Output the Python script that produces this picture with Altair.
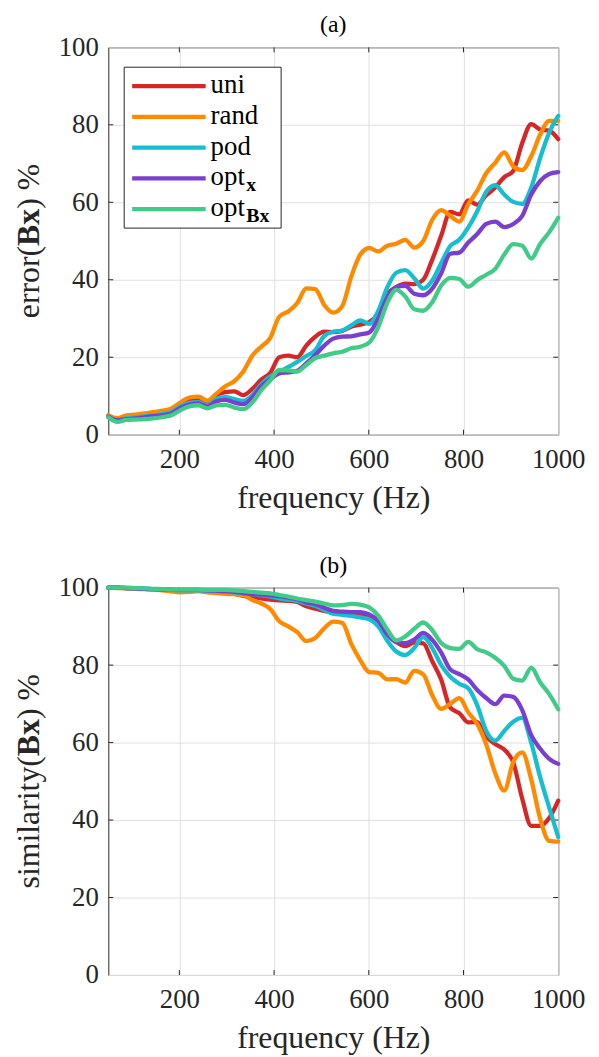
import altair as alt
import pandas as pd

freq = [50, 69, 88, 107, 126, 145, 164, 183, 202, 221, 240, 259, 278, 297, 316, 335, 354,
        373, 392, 411, 430, 449, 468, 487, 506, 525, 544, 563, 582, 601, 620, 639, 658, 677,
        696, 715, 734, 753, 772, 791, 810, 829, 848, 867, 886, 905, 924, 943, 962, 981, 1000]

err_uni = [4.8, 4.1, 4.6, 4.9, 5.1, 5.4, 5.8, 6.4, 7.8, 8.8, 9.0, 8.2, 10.2, 11.0, 11.2, 10.2, 11.8,
           14.2, 16.0, 20.0, 20.4, 20.0, 23.0, 25.3, 26.6, 26.5, 26.8, 27.9, 28.4, 29.1, 31.3, 36.3,
           38.1, 39.0, 38.9, 40.0, 45.2, 51.4, 57.5, 56.9, 60.5, 59.4, 61.8, 63.8, 66.5, 68.1, 75.3,
           80.2, 78.8, 78.5, 76.3]
err_rand = [5.0, 4.3, 5.0, 5.2, 5.5, 5.8, 6.2, 6.8, 8.3, 9.6, 9.8, 8.8, 10.6, 12.5, 13.8, 16.3, 20.4,
            22.7, 25.0, 30.5, 31.8, 34.0, 37.8, 37.6, 33.5, 31.5, 33.2, 40.8, 46.5, 48.2, 47.3, 48.8,
            49.3, 50.3, 48.3, 50.0, 55.5, 58.0, 56.5, 55.0, 59.5, 63.0, 67.5, 70.2, 72.9, 69.3, 68.3,
            71.9, 77.5, 81.0, 81.0]
err_pod = [4.6, 3.8, 4.2, 4.5, 4.7, 5.0, 5.3, 5.9, 7.3, 8.2, 8.4, 7.6, 9.2, 9.7, 9.2, 8.7, 10.2,
           13.0, 15.0, 16.2, 17.5, 18.8, 20.3, 21.8, 25.5, 26.6, 26.9, 28.2, 29.5, 28.6, 32.0, 38.0,
           41.8, 42.5, 40.4, 37.7, 39.8, 44.3, 48.7, 50.3, 53.5, 57.7, 62.7, 64.4, 62.0, 60.1, 59.6,
           63.8, 71.5, 78.0, 82.3]
err_optx = [4.7, 3.7, 4.0, 4.2, 4.5, 4.8, 5.0, 5.5, 6.9, 7.8, 8.1, 7.3, 8.6, 9.0, 8.3, 7.9, 9.6,
            12.5, 14.3, 15.8, 16.1, 16.5, 18.4, 20.6, 23.0, 24.8, 25.3, 25.4, 25.9, 26.4, 30.0, 35.4,
            38.1, 38.4, 36.4, 36.0, 37.7, 41.7, 46.7, 47.0, 49.6, 51.8, 54.4, 55.0, 53.6, 54.4, 56.5,
            62.0, 65.5, 67.3, 67.8]
err_optBx = [4.5, 3.3, 3.8, 3.9, 4.0, 4.2, 4.5, 5.0, 6.3, 7.3, 7.6, 6.8, 7.6, 7.7, 7.0, 6.6, 8.3,
             11.5, 14.0, 16.7, 16.6, 16.3, 18.0, 19.8, 20.4, 21.0, 21.4, 22.3, 22.7, 23.8, 27.8, 34.0,
             37.4, 35.7, 32.4, 32.0, 34.2, 38.5, 40.5, 40.2, 38.2, 39.9, 41.3, 42.8, 46.5, 49.2, 48.8,
             45.5, 49.3, 52.3, 56.0]

sim_uni = [100, 100, 99.9, 99.8, 99.7, 99.6, 99.5, 99.4, 99.3, 99.3, 99.2, 99.0, 98.9, 98.7, 98.4,
           97.9, 97.6, 97.2, 96.9, 96.7, 96.6, 96.3, 95.2, 94.6, 94.0, 93.5, 93.4, 93.3, 93.1, 92.6,
           91.0, 88.5, 86.0, 84.9, 85.8, 85.6, 81.0, 76.2, 69.0, 67.6, 65.2, 65.3, 61.5, 59.6, 58.2,
           54.9, 45.5, 38.5, 38.5, 40.5, 45.0]
sim_rand = [100, 99.9, 99.8, 99.7, 99.6, 99.5, 99.3, 99.0, 98.8, 98.9, 99.1, 98.8, 98.6, 98.4, 98.3,
            98.0, 96.8, 95.9, 94.5, 91.3, 90.0, 88.5, 86.2, 87.0, 89.5, 91.2, 90.9, 85.5, 81.3, 78.2,
            78.0, 76.3, 76.4, 75.5, 78.5, 77.6, 72.2, 68.7, 70.0, 71.5, 67.8, 64.8, 59.5, 52.1, 47.6,
            55.0, 57.5, 50.5, 40.3, 34.6, 34.4]
sim_pod = [100, 100, 99.9, 99.8, 99.7, 99.6, 99.5, 99.4, 99.3, 99.3, 99.3, 99.2, 99.1, 99.0, 98.8,
           98.6, 98.3, 98.0, 97.7, 97.2, 96.9, 96.6, 95.9, 95.3, 94.2, 93.2, 93.0, 92.7, 92.3, 91.8,
           90.0, 86.3, 83.5, 82.6, 84.4, 87.2, 84.4, 80.0, 77.0, 75.2, 74.0, 69.6, 63.0, 60.5, 63.0,
           65.4, 66.4, 59.9, 51.0, 43.2, 35.6]
sim_optx = [100, 100, 99.9, 99.8, 99.7, 99.6, 99.5, 99.4, 99.4, 99.4, 99.4, 99.3, 99.2, 99.1, 98.9,
            98.6, 98.3, 98.2, 98.0, 97.8, 97.4, 97.0, 96.2, 95.7, 94.8, 94.0, 93.8, 93.7, 93.7, 93.1,
            91.5, 88.0, 85.9, 85.7, 86.6, 88.3, 86.5, 83.2, 78.9, 77.7, 76.3, 73.6, 71.5, 69.9, 72.1,
            71.8, 68.4, 61.9, 58.4, 55.8, 54.5]
sim_optBx = [100, 100, 100, 99.9, 99.8, 99.7, 99.6, 99.5, 99.5, 99.5, 99.5, 99.4, 99.4, 99.4, 99.3,
             99.1, 98.9, 98.7, 98.5, 98.1, 97.7, 97.2, 96.8, 96.4, 95.9, 95.4, 95.5, 95.8, 95.6, 94.9,
             92.8, 89.2, 86.4, 87.4, 89.4, 91.0, 89.0, 85.7, 84.4, 84.2, 86.0, 84.1, 83.3, 81.9, 79.8,
             76.5, 76.0, 79.3, 75.5, 72.5, 68.6]

names = ["uni", "rand", "pod", "optx", "optBx"]
colors = ["#D62728", "#FF8A00", "#17BECF", "#7B3FCF", "#40CC88"]
legend_main = ["uni", "rand", "pod", "opt", "opt"]
legend_sub = ["", "", "", "x", "Bx"]
x_ticks = [200, 400, 600, 800, 1000]
y_ticks = [0, 20, 40, 60, 80, 100]

FONT = "Liberation Serif"
DARK = "#262626"
W, H = 453, 390


def long_frame(series):
    rows = []
    for name, vals in zip(names, series):
        for f, v in zip(freq, vals):
            rows.append({"f": f, "v": v, "s": name})
    return pd.DataFrame(rows)


X = alt.X("f:Q", scale=alt.Scale(domain=[50, 1000], nice=False, zero=False),
          axis=alt.Axis(values=x_ticks, title="frequency (Hz)", labelFlush=False,
                        labelOverlap=False, format="d"))
Y = alt.Y("v:Q", scale=alt.Scale(domain=[0, 100], nice=False),
          axis=alt.Axis(values=y_ticks, title=None, labelOverlap=False, format="d"))

one = pd.DataFrame({"a": [0]})


def panel(series, title, ylab_pre, legend):
    df = long_frame(series)
    layers = []
    tx = pd.DataFrame({"f": x_ticks[:-1]})
    ty = pd.DataFrame({"v": y_ticks[1:-1]})
    layers.append(alt.Chart(tx).mark_rule(color=DARK, strokeWidth=1).encode(
        x=X, y=alt.value(H), y2=alt.value(H - 5)))
    layers.append(alt.Chart(tx).mark_rule(color=DARK, strokeWidth=1).encode(
        x=X, y=alt.value(0), y2=alt.value(5)))
    layers.append(alt.Chart(ty).mark_rule(color=DARK, strokeWidth=1).encode(
        y=Y, x=alt.value(0), x2=alt.value(5)))
    layers.append(alt.Chart(ty).mark_rule(color=DARK, strokeWidth=1).encode(
        y=Y, x=alt.value(W), x2=alt.value(W - 5)))
    for name, col in zip(names, colors):
        layers.append(
            alt.Chart(df).transform_filter(alt.datum.s == name)
            .mark_line(color=col, strokeWidth=4.3, strokeJoin="round", strokeCap="round",
                       interpolate="monotone")
            .encode(x=X, y=Y)
        )
    # y-axis title with bold Bx
    yc = H / 2.0
    bx_w = 37.3
    pre_w = {"error(": 72.8, "similarity(": 133.3}[ylab_pre]
    post_w = 45.3
    total = pre_w + bx_w + post_w
    bx_bottom = yc + total / 2 - pre_w
    bx_center = bx_bottom - bx_w / 2
    tx_pos = -80
    layers.append(alt.Chart(one).mark_text(angle=270, align="right", baseline="middle", font=FONT,
                                           fontSize=32, color=DARK, text=ylab_pre)
                  .encode(x=alt.value(tx_pos), y=alt.value(bx_bottom)))
    layers.append(alt.Chart(one).mark_text(angle=270, align="center", baseline="middle", font=FONT,
                                           fontSize=32, fontWeight="bold", color=DARK, text="Bx")
                  .encode(x=alt.value(tx_pos), y=alt.value(bx_center)))
    layers.append(alt.Chart(one).mark_text(angle=270, align="left", baseline="middle", font=FONT,
                                           fontSize=32, color=DARK, text=") %")
                  .encode(x=alt.value(tx_pos), y=alt.value(bx_center - bx_w / 2)))
    if legend:
        layers.append(alt.Chart(one).mark_rect(fill="white", stroke=DARK, strokeWidth=1).encode(
            x=alt.value(16), x2=alt.value(174), y=alt.value(20), y2=alt.value(182)))
        for k, (col, lab, sub) in enumerate(zip(colors, legend_main, legend_sub)):
            yy = 39 + 31 * k
            layers.append(alt.Chart(one).mark_rule(color=col, strokeWidth=4.3).encode(
                x=alt.value(24), x2=alt.value(98), y=alt.value(yy)))
            layers.append(alt.Chart(one).mark_text(align="left", baseline="alphabetic", font=FONT,
                                                   fontSize=27, color="black", text=lab)
                          .encode(x=alt.value(103), y=alt.value(yy + 7)))
            if sub:
                layers.append(alt.Chart(one).mark_text(align="left", baseline="alphabetic",
                                                       font=FONT, fontSize=20, fontWeight="bold",
                                                       color="black", text=sub)
                              .encode(x=alt.value(139), y=alt.value(yy + 13)))
    return alt.layer(*layers).properties(
        width=W, height=H,
        title=alt.TitleParams(title, font=FONT, fontSize=24, fontWeight="normal",
                              color="black", offset=-4, anchor="middle"))


top = panel([err_uni, err_rand, err_pod, err_optx, err_optBx], "(a)", "error(", True)
bottom = panel([sim_uni, sim_rand, sim_pod, sim_optx, sim_optBx], "(b)", "similarity(", False)

chart = alt.vconcat(top, bottom, spacing=39).properties(
    padding={"left": 4, "top": 1, "right": 5, "bottom": 5},
    background="white",
).configure_view(stroke=DARK, strokeWidth=1).configure_axis(
    domain=False, ticks=False, grid=True, gridColor="#e0e0e0", gridWidth=1,
    labelFont=FONT, labelFontSize=27, labelColor=DARK, labelPadding=10,
    titleFont=FONT, titleFontSize=32, titleFontWeight="normal", titleColor=DARK,
).configure_axisX(labelPadding=12, titlePadding=10)

chart.save("out.html", embed_options={"renderer": "svg", "actions": False})
